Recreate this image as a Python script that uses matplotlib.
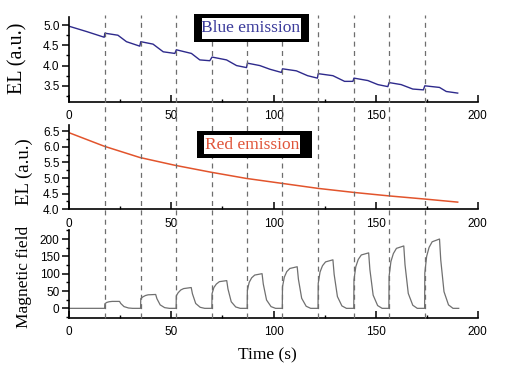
import matplotlib as mpl
mpl.use("Agg")
import matplotlib.pyplot as plt
from matplotlib.lines import Line2D
from matplotlib.patches import Rectangle
from matplotlib.transforms import blended_transform_factory
from matplotlib.ticker import MultipleLocator


# blue emission EL (a.u.) vs time (s)
blue_t = [0, 8.5, 17.1, 17.4, 23.8, 28, 34.5, 35.0, 41, 46, 51.7, 52.4, 59.8, 63.9, 68.8, 69.9,
          77, 81.9, 86.8, 87.2, 93.3, 98.2, 103.9, 104.4, 111.2, 116.7, 121.5, 121.9, 129.1,
          134.8, 138.9, 139.4, 146.2, 151.1, 156, 156.6, 162.5, 168.2, 173.4, 174.1, 181.3,
          184.6, 190.2]
blue_el = [4.97, 4.84, 4.70, 4.80, 4.75, 4.59, 4.48, 4.59, 4.53, 4.34, 4.30, 4.39, 4.30, 4.14,
           4.12, 4.21, 4.14, 4.00, 3.95, 4.06, 4.00, 3.91, 3.83, 3.92, 3.87, 3.75, 3.69, 3.80,
           3.75, 3.61, 3.61, 3.69, 3.63, 3.53, 3.48, 3.58, 3.53, 3.42, 3.40, 3.50, 3.46, 3.36,
           3.32]

# red emission EL (a.u.) vs time (s)
red_t = [0, 17.1, 34.5, 51.7, 69.2, 86.6, 104.2, 121.8, 139.4, 156.4, 173.8, 190.2]
red_el = [6.45, 6.02, 5.66, 5.41, 5.19, 4.99, 4.83, 4.67, 4.54, 4.43, 4.33, 4.23]

# magnetic field vs time (s)
field_t = [0,
           17.3, 17.4, 18.3, 19.5, 21, 24.6, 25.2, 26.8, 29, 31,
           34.9, 35, 36, 37.3, 38.6, 42.3, 42.9, 44.5, 46.7, 49,
           52.3, 52.4, 53.3, 54.6, 56, 59.7, 60.3, 61.9, 64.1, 66.3,
           69.8, 69.9, 70.8, 72, 73.5, 77.1, 77.7, 79.3, 81.5, 83.7,
           87.1, 87.2, 88.1, 89.3, 90.8, 94.4, 95, 96.6, 98.8, 101,
           104.3, 104.4, 105.3, 106.5, 108, 111.6, 112.2, 113.8, 116, 118.2,
           121.8, 121.9, 122.8, 124, 125.5, 129.1, 129.7, 131.3, 133.5, 135.7,
           139.3, 139.4, 140.3, 141.5, 143, 146.6, 147.2, 148.8, 151, 153.2,
           156.5, 156.6, 157.5, 158.7, 160.2, 163.8, 164.4, 166, 168.2, 170.4,
           174, 174.1, 175, 176.2, 177.7, 181.3, 181.9, 183.5, 185.7, 187.9, 190.7]
field_b = [0,
           0, 13, 17, 19, 20, 20, 14, 5, 1, 0,
           0, 28, 33, 37, 39, 40, 28, 10, 2, 0,
           0, 36, 45, 53, 57, 60, 42, 14, 3, 0,
           0, 42, 60, 70, 77, 80, 56, 19, 4, 0,
           0, 52, 75, 88, 96, 100, 70, 24, 5, 0,
           0, 62, 90, 106, 115, 120, 84, 29, 6, 0,
           0, 72, 105, 123, 134, 140, 98, 34, 7, 0,
           0, 82, 120, 141, 154, 160, 112, 38, 8, 0,
           0, 92, 135, 158, 173, 180, 126, 43, 9, 0,
           0, 102, 150, 176, 192, 200, 140, 48, 10, 0, 0]

# times where the field was switched on (dashed lines)
switch_t = [17.3, 34.9, 52.3, 69.8, 87.1, 104.3, 121.8, 139.3, 156.5, 174.0]


W, H = 508, 367


def fx(px):
	return px / W


def fy(py):
	return 1 - py / H


fig = plt.figure(figsize=(W / 100, H / 100), dpi=100)

left = fx(69.3)
width = fx(477.7) - left
ax1 = fig.add_axes([left, fy(102), width, fy(17) - fy(102)])
ax2 = fig.add_axes([left, fy(209.3), width, fy(125) - fy(209.3)])
ax3 = fig.add_axes([left, fy(317.7), width, fy(230) - fy(317.7)])

ax1.plot(blue_t, blue_el, color="#2e2a8c", lw=1.0)
ax2.plot(red_t, red_el, color="#e2542c", lw=1.1)
ax3.plot(field_t, field_b, color="#707070", lw=0.9)

ax1.set_ylim(3.1, 5.2)
ax2.set_ylim(4.0, 6.7)
ax3.set_ylim(-27, 226)

ax1.yaxis.set_major_locator(MultipleLocator(0.5))
ax1.yaxis.set_minor_locator(MultipleLocator(0.25))
ax1.set_yticks([3.5, 4.0, 4.5, 5.0])
ax2.yaxis.set_major_locator(MultipleLocator(0.5))
ax2.yaxis.set_minor_locator(MultipleLocator(0.25))
ax3.yaxis.set_major_locator(MultipleLocator(50))
ax3.yaxis.set_minor_locator(MultipleLocator(25))
ax3.set_yticks([0, 50, 100, 150, 200])

for ax in (ax1, ax2, ax3):
	ax.set_xlim(0, 200)
	ax.patch.set_alpha(0)
	ax.spines["top"].set_visible(False)
	ax.spines["right"].set_visible(False)
	ax.spines["left"].set_linewidth(1.2)
	ax.spines["bottom"].set_linewidth(1.2)
	ax.xaxis.set_major_locator(MultipleLocator(50))
	ax.xaxis.set_minor_locator(MultipleLocator(25))
	ax.tick_params(axis="x", which="both", direction="in", pad=6)
	ax.tick_params(axis="y", which="both", direction="out", pad=2)
	ax.tick_params(which="major", length=5, width=1.1, labelsize=8.5)
	ax.tick_params(which="minor", length=2.5, width=1.0)
	for lab in ax.get_xticklabels() + ax.get_yticklabels():
		lab.set_family("Liberation Sans")

# dashed lines across all panels
trans = blended_transform_factory(ax1.transData, fig.transFigure)
for t in switch_t:
	fig.add_artist(Line2D([t, t], [fy(318), fy(15)], transform=trans,
		color="#6e6e6e", lw=0.9, ls=(0, (4, 3.5))))

# labelled boxes
def label_box(outer, inner, text, color):
	x0, y0, x1, y1 = outer
	fig.add_artist(Rectangle((fx(x0), fy(y1)), fx(x1) - fx(x0), fy(y0) - fy(y1),
		transform=fig.transFigure, facecolor="black", edgecolor="none", zorder=5))
	x0, y0, x1, y1 = inner
	fig.add_artist(Rectangle((fx(x0), fy(y1)), fx(x1) - fx(x0), fy(y0) - fy(y1),
		transform=fig.transFigure, facecolor="white", edgecolor="none", zorder=6))
	fig.text(fx((x0 + x1) / 2), fy((y0 + y1) / 2), text, color=color, zorder=7,
		ha="center", va="center", family="Liberation Serif", fontsize=12.5)


label_box((194, 14, 309, 42), (201.5, 18, 300.5, 38.5), "Blue emission", "#3b3b9b")
label_box((196.7, 130.7, 311.7, 158.3), (204, 135, 300, 154.3), "Red emission", "#e0553a")

serif = "Liberation Serif"
fig.text(fx(18), fy(58), "EL (a.u.)", rotation=90, ha="center", va="center", family=serif, fontsize=14.5)
fig.text(fx(24), fy(172), "EL (a.u.)", rotation=90, ha="center", va="center", family=serif, fontsize=13.5)
fig.text(fx(24), fy(277), "Magnetic field", rotation=90, ha="center", va="center", family=serif, fontsize=12.5)
fig.text(fx(267), fy(355), "Time (s)", ha="center", va="center", family=serif, fontsize=12.5)

plt.savefig("out.png", dpi=100)
